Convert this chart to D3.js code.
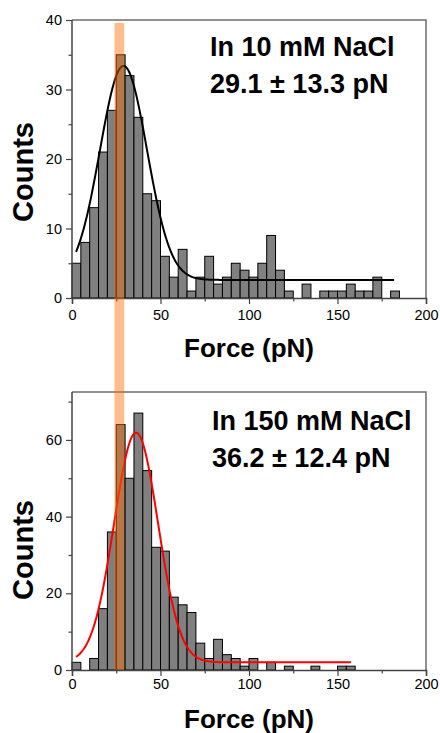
<!DOCTYPE html>
<html>
<head>
<meta charset="utf-8">
<script src="https://cdn.jsdelivr.net/npm/d3@7"></script>
<style>
  body { margin: 0; background: #fff; }
  svg { display: block; }
  text { font-family: "Liberation Sans", Arial, Helvetica, sans-serif; fill: #000; }
</style>
</head>
<body>
<svg id="fig" width="440" height="733"></svg>
<script>
// Histogram bins are 5 pN wide, starting at 0 pN
const binWidth = 5;
const countsLowSalt = [5, 8, 13, 21, 27, 35, 32, 26, 15, 14, 6, 3, 7, 1, 3, 6, 2, 3, 5, 4, 3, 5, 9, 4, 1, 0, 2, 0, 1, 1, 1, 2, 1, 1, 3, 0, 1];
const countsHighSalt = [2, 0, 3, 16, 36, 64, 50, 67, 52, 32, 31, 19, 17, 15, 7, 3, 8, 4, 3, 1, 3, 0, 2, 0, 1, 0, 0, 1, 0, 0, 1, 1];

// Gaussian fits: [centre, sigma, amplitude above offset, offset, x start, x end]
const fitLowSalt = [29.1, 13.3, 30.8, 2.6, 2.3, 182];
const fitHighSalt = [36.2, 12.4, 59.9, 2.0, 2.3, 157.6];

// Shared force axis
const forceDomain = [0, 200];
const forceTicks = [0, 50, 100, 150, 200];
const forceMinorTicks = [25, 75, 125, 175];

// Count axes
const countDomainLow = [0, 40];
const countTicksLow = [0, 10, 20, 30, 40];
const countMinorLow = [5, 15, 25, 35];
const countDomainHigh = [0, 72.5];
const countTicksHigh = [0, 20, 40, 60];
const countMinorHigh = [10, 30, 50, 70];

// Highlighted force window
const bandRange = [24, 29.5];

const annotLowSalt = ["In 10 mM NaCl", "29.1 \u00b1 13.3 pN"];
const annotHighSalt = ["In 150 mM NaCl", "36.2 \u00b1 12.4 pN"];
const xTitle = "Force (pN)";
const yTitle = "Counts";

const svg = d3.select("#fig");
const left = 72, right = 426;
const x = d3.scaleLinear().domain(forceDomain).range([left, right]);

function gauss(p, v) {
  const [xc, s, a, y0] = p;
  return y0 + a * Math.exp(-((v - xc) * (v - xc)) / (2 * s * s));
}

function panel(cfg) {
  const y = d3.scaleLinear().domain(cfg.domain).range([cfg.bottom, cfg.top]);
  const g = svg.append("g");

  // bars
  g.append("g").selectAll("rect")
    .data(cfg.counts.map((c, i) => ({ x0: i * binWidth, c })).filter(d => d.c > 0))
    .join("rect")
    .attr("x", d => x(d.x0))
    .attr("width", d => x(d.x0 + binWidth) - x(d.x0))
    .attr("y", d => y(d.c))
    .attr("height", d => y(0) - y(d.c))
    .attr("fill", "#808080")
    .attr("stroke", "#000")
    .attr("stroke-width", 1);

  // fitted curve
  const [, , , , x0, x1] = cfg.fit;
  const pts = d3.range(x0, x1, 0.5).concat([x1]).map(v => [v, gauss(cfg.fit, v)]);
  g.append("path")
    .datum(pts)
    .attr("fill", "none")
    .attr("stroke", cfg.curveColor)
    .attr("stroke-width", 2)
    .attr("d", d3.line().x(d => x(d[0])).y(d => y(d[1])));

  // frame (top and right edges)
  g.append("path")
    .attr("d", `M${left},${cfg.top}H${right}V${cfg.bottom}`)
    .attr("fill", "none")
    .attr("stroke", "#6e6e6e")
    .attr("stroke-width", 1.5);

  // x axis
  g.append("g").attr("transform", `translate(0,${cfg.bottom})`)
    .call(d3.axisBottom(x).tickValues(forceTicks).tickSize(6).tickPadding(cfg.xPad).tickFormat(d3.format("d")));
  g.append("g").attr("transform", `translate(0,${cfg.bottom})`)
    .call(d3.axisBottom(x).tickValues(forceMinorTicks).tickSize(3.5).tickFormat(""))
    .select(".domain").remove();

  // y axis
  const ya = g.append("g").attr("transform", `translate(${left},0)`)
    .call(d3.axisLeft(y).tickValues(cfg.ticks).tickSize(6).tickPadding(4).tickFormat(d3.format("d")));
  g.append("g").attr("transform", `translate(${left},0)`)
    .call(d3.axisLeft(y).tickValues(cfg.minor).tickSize(3.5).tickFormat(""))
    .select(".domain").remove();
  ya.select(".domain").attr("d", `M${0},${cfg.top}V${cfg.bottom}`);

  g.selectAll(".domain").attr("stroke", "#444").attr("stroke-width", 1.5);
  g.selectAll(".tick line").attr("stroke", "#444").attr("stroke-width", 1.2);
  g.selectAll(".tick text").attr("font-size", 14.5).attr("fill", "#000")
    .style("font-family", "'Liberation Sans', Arial, sans-serif");

  // annotation
  const t = g.append("text").attr("font-size", 27).attr("font-weight", "bold");
  cfg.annot.forEach((s, i) => {
    t.append("tspan").attr("x", cfg.annotX).attr("y", cfg.annotY + i * 36.5).text(s);
  });

  // axis titles
  g.append("text")
    .attr("x", (left + right) / 2).attr("y", cfg.xTitleY)
    .attr("text-anchor", "middle").attr("font-size", 26).attr("font-weight", "bold")
    .text(xTitle);
  g.append("text")
    .attr("transform", `translate(${cfg.yTitleX},${cfg.yTitleY}) rotate(-90)`)
    .attr("text-anchor", "middle").attr("font-size", 29).attr("font-weight", "bold")
    .text(yTitle);

  return y;
}

const yLow = panel({
  counts: countsLowSalt, fit: fitLowSalt, curveColor: "#000",
  domain: countDomainLow, ticks: countTicksLow, minor: countMinorLow,
  top: 20, bottom: 298, xPad: 6,
  annot: annotLowSalt, annotX: 210, annotY: 56,
  xTitleY: 357, yTitleX: 33, yTitleY: 172
});

const yHigh = panel({
  counts: countsHighSalt, fit: fitHighSalt, curveColor: "#ff0000",
  domain: countDomainHigh, ticks: countTicksHigh, minor: countMinorHigh,
  top: 392, bottom: 670, xPad: 3,
  annot: annotHighSalt, annotX: 212, annotY: 430,
  xTitleY: 728, yTitleX: 33, yTitleY: 550
});

// translucent orange band marking the shared force window, spanning both panels
svg.append("rect")
  .attr("x", x(bandRange[0]))
  .attr("width", x(bandRange[1]) - x(bandRange[0]))
  .attr("y", 23)
  .attr("height", yHigh(0) - 23)
  .attr("fill", "#ff6b00")
  .attr("fill-opacity", 0.45);
</script>
</body>
</html>
